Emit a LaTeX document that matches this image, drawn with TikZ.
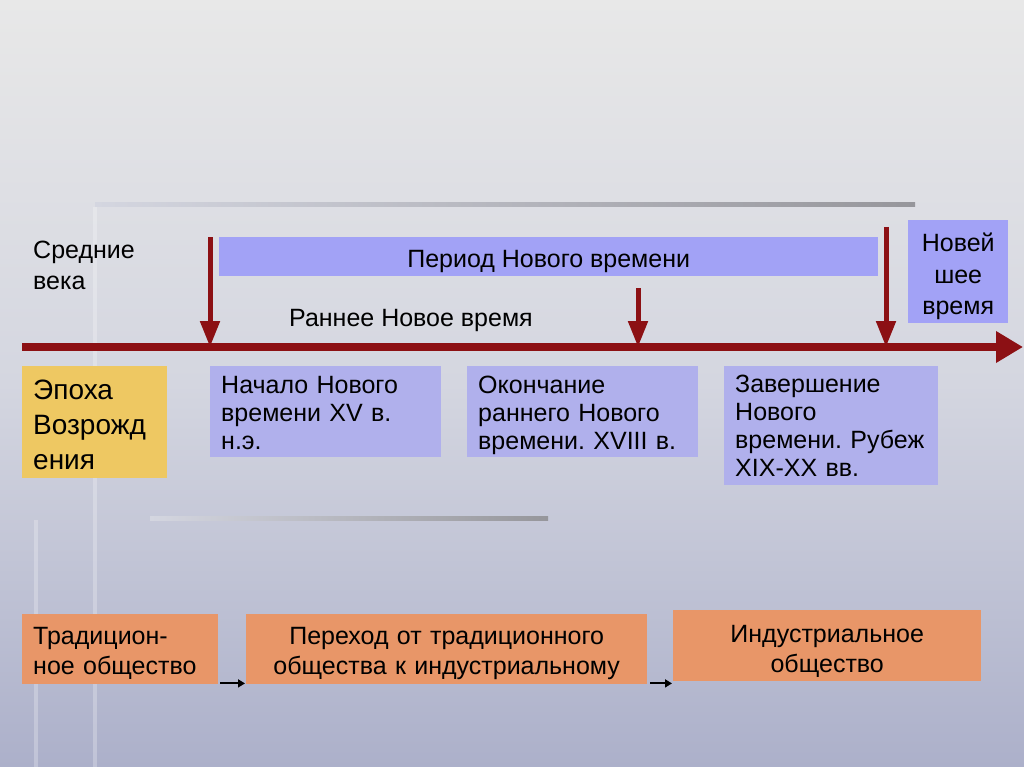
\documentclass[tikz,border=0pt]{standalone}
\usepackage{fontspec}
\setmainfont{Liberation Sans}
\usetikzlibrary{arrows.meta,calc}
\frenchspacing
\definecolor{bgtop}{RGB}{232,232,232}
\definecolor{bgmid}{RGB}{212,214,224}
\definecolor{bgbot}{RGB}{172,176,202}
\definecolor{axisred}{RGB}{140,16,20}
\definecolor{barblue}{RGB}{162,162,246}
\definecolor{boxblue}{RGB}{176,176,236}
\definecolor{boxyellow}{RGB}{238,200,98}
\definecolor{boxorange}{RGB}{232,150,104}
\definecolor{decogray}{RGB}{150,150,155}
\newcommand{\lowerby}[1]{\rule{0pt}{#1pt}}
\tikzset{
  txt/.style={font=\fontsize{25}{31}\selectfont, text=black, inner sep=0pt},
  vbox/.style={rectangle, fill=boxblue, anchor=north west, align=left,
    inner xsep=11pt, inner ysep=0pt, font=\fontsize{25}{28}\selectfont},
  ybox/.style={rectangle, fill=boxyellow, anchor=north west, align=left,
    inner xsep=11pt, inner ysep=0pt, font=\fontsize{28}{35}\selectfont},
  obox/.style={rectangle, fill=boxorange, anchor=north west,
    inner xsep=11pt, inner ysep=0pt, font=\fontsize{25}{30}\selectfont},
  pbar/.style={rectangle, fill=barblue, anchor=north west, inner sep=0pt,
    font=\fontsize{25}{31}\selectfont},
  axisline/.style={draw=axisred, line width=8pt, -{Triangle[length=27pt,width=30pt]}},
  downarrow/.style={draw=axisred, line width=5pt, -{Triangle[length=26pt,width=19pt]}},
  smallarrow/.style={draw=black, line width=2pt, -{Triangle[length=7pt,width=8pt]}}
}
\begin{document}
\begin{tikzpicture}[x=1pt,y=-1pt]
\useasboundingbox (0,0) rectangle (1024,767);
% background
\shade[top color=bgtop, bottom color=bgbot, middle color=bgmid] (0,0) rectangle (1024,767);
% decorative lines
\shade[left color=bgmid, right color=decogray] (95,203) rectangle (915,207);
\shade[left color=bgmid, right color=decogray] (150,516) rectangle (548,520);
\fill[white, opacity=0.25] (93,207) rectangle (97,767);
\fill[white, opacity=0.25] (34,520) rectangle (38,767);

% period bar and labels
\node[pbar, minimum width=659, minimum height=39] (period) at (219,237) {\lowerby{26}Период Нового времени};
\node[pbar, minimum width=100, minimum height=103, align=center,
      font=\fontsize{25}{31.5}\selectfont] (newest) at (908,220) {\lowerby{28}Новей\\шее\\время};
\node[txt, anchor=west, align=left] (middle) at (33,265.5) {Средние\\века};
\node[txt] (early) at (411,320) {Раннее Новое время};

% axis
\coordinate (axstart) at (22,347);
\coordinate (axend) at (1023,347);
\draw[axisline] (axstart) -- (axend);

% down arrows
\coordinate (d1s) at (210,237);
\coordinate (d1e) at (210,347);
\coordinate (d2s) at (638,288);
\coordinate (d2e) at (638,347);
\coordinate (d3s) at (886,227);
\coordinate (d3e) at (886,347);
\draw[downarrow] (d1s) -- (d1e);
\draw[downarrow] (d2s) -- (d2e);
\draw[downarrow] (d3s) -- (d3e);

% boxes below axis
\node[ybox, minimum height=112, text width=123] (renaiss) at (22,366) {\lowerby{24}Эпоха\\Возрожд\\ения};
\node[vbox, minimum height=91, text width=209] (start) at (210,366) {\lowerby{20}Начало Нового\\времени XV в.\\н.э.};
\node[vbox, minimum height=91, text width=209] (endearly) at (467,366) {\lowerby{24}Окончание\\раннего Нового\\времени. XVIII в.};
\node[vbox, minimum height=119, text width=192] (finish) at (724,366) {Завершение\\Нового\\\mbox{времени. Рубеж}\\XIX-XX вв.};

% bottom boxes
\node[obox, minimum height=70, text width=174, align=left] (trad) at (22,614) {\lowerby{26}Традицион-\\ное общество};
\node[obox, minimum height=70, text width=379, align=center] (trans) at (246,614) {\lowerby{26}Переход от традиционного\\общества к индустриальному};
\node[obox, minimum height=71, text width=286, align=center] (ind) at (673,610) {\lowerby{28}Индустриальное\\общество};

% small arrows
\coordinate (a1s) at ($(trad.south east)+(2,-1)$);
\coordinate (a1e) at ($(trans.south west)+(-1,-1)$);
\coordinate (a2s) at ($(trans.south east)+(3,-1)$);
\coordinate (a2e) at ($(ind.south west)+(-1,2)$);
\draw[smallarrow] (a1s) -- (a1e);
\draw[smallarrow] (a2s) -- (a2e);
\end{tikzpicture}
\end{document}
